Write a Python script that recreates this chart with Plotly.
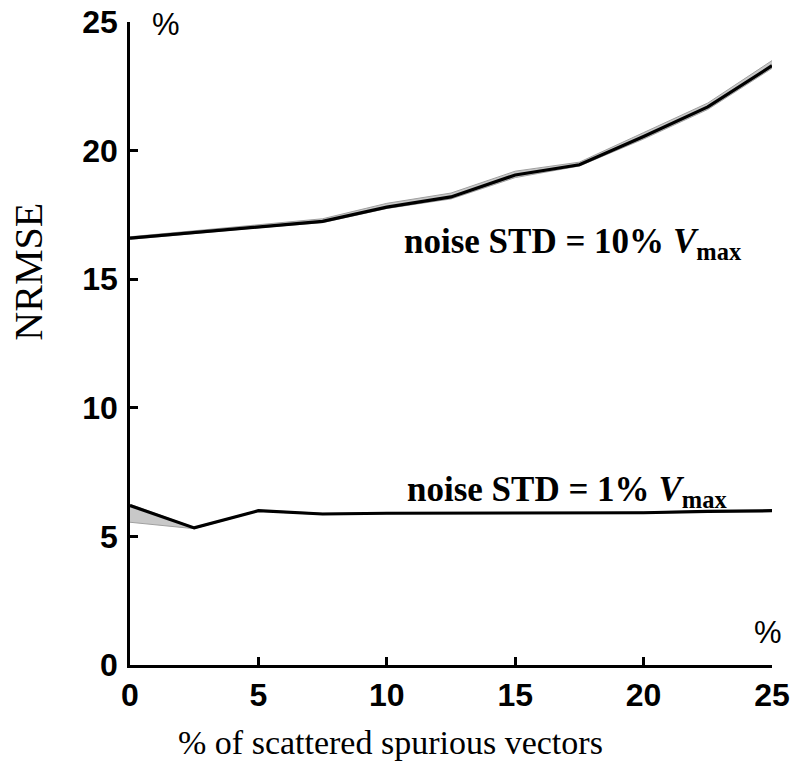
import plotly.graph_objects as go

x_vals = [0, 2.5, 5, 7.5, 10, 12.5, 15, 17.5, 20, 22.5, 25]

# noise STD = 10% Vmax
hi_mean = [16.6, 16.82, 17.03, 17.25, 17.8, 18.2, 19.05, 19.45, 20.55, 21.7, 23.3]
hi_upper = [16.65, 16.88, 17.1, 17.35, 17.95, 18.35, 19.2, 19.55, 20.7, 21.85, 23.5]
hi_lower = [16.55, 16.78, 17.0, 17.2, 17.75, 18.12, 18.95, 19.4, 20.45, 21.6, 23.2]

# noise STD = 1% Vmax
lo_mean = [6.2, 5.33, 6.0, 5.87, 5.9, 5.9, 5.9, 5.9, 5.92, 5.97, 6.0]
lo_upper = [6.25, 5.35, 6.02, 5.9, 5.93, 5.93, 5.92, 5.92, 5.95, 6.0, 6.02]
lo_lower = [5.55, 5.3, 5.98, 5.85, 5.88, 5.88, 5.88, 5.88, 5.9, 5.95, 5.98]

x_ticks = [0, 5, 10, 15, 20, 25]
y_ticks = [0, 5, 10, 15, 20, 25]

band_fill = "#c8c8c8"
band_edge = "#a0a0a0"

fig = go.Figure()

for lower, upper, mean in [(hi_lower, hi_upper, hi_mean), (lo_lower, lo_upper, lo_mean)]:
    fig.add_trace(go.Scatter(x=x_vals, y=lower, mode="lines",
                             line=dict(color=band_edge, width=1), showlegend=False,
                             hoverinfo="skip"))
    fig.add_trace(go.Scatter(x=x_vals, y=upper, mode="lines", fill="tonexty",
                             fillcolor=band_fill,
                             line=dict(color=band_edge, width=1), showlegend=False,
                             hoverinfo="skip"))
    fig.add_trace(go.Scatter(x=x_vals, y=mean, mode="lines",
                             line=dict(color="black", width=3.2), showlegend=False))

tick_font = dict(family="Liberation Sans", size=32, color="black", weight="bold")

fig.update_xaxes(range=[0, 25], tickvals=x_ticks, ticktext=[str(v) for v in x_ticks],
                 showline=True, linecolor="black", linewidth=2.5,
                 ticks="inside", ticklen=8, tickwidth=2.5, tickcolor="black",
                 showgrid=False, zeroline=False, tickfont=tick_font,
                 ticklabelstandoff=0, automargin=False, ticklabeloverflow="allow")
fig.update_yaxes(range=[0, 25], tickvals=y_ticks, ticktext=[str(v) for v in y_ticks],
                 showline=True, linecolor="black", linewidth=2.5,
                 ticks="inside", ticklen=8, tickwidth=2.5, tickcolor="black",
                 showgrid=False, zeroline=False, tickfont=tick_font,
                 ticklabelstandoff=3, automargin=False, ticklabeloverflow="allow")

serif = "Liberation Serif"
annotations = [
    dict(x=10.6, y=16.4, xref="x", yref="y", xanchor="left", yanchor="middle",
         text="<b>noise STD = 10% <i>V</i><sub>max</sub></b>",
         font=dict(family=serif, size=35, color="black"), showarrow=False),
    dict(x=10.7, y=6.75, xref="x", yref="y", xanchor="left", yanchor="middle",
         text="<b>noise STD = 1% <i>V</i><sub>max</sub></b>",
         font=dict(family=serif, size=35, color="black"), showarrow=False),
    dict(x=1.4, y=24.9, xref="x", yref="y", xanchor="center", yanchor="middle",
         text="%", font=dict(family="Liberation Sans", size=31, color="black"), showarrow=False),
    dict(x=24.85, y=1.28, xref="x", yref="y", xanchor="center", yanchor="middle",
         text="%", font=dict(family="Liberation Sans", size=31, color="black"), showarrow=False),
    dict(x=0.405, y=-0.12, xref="paper", yref="paper", xanchor="center", yanchor="middle",
         text="% of scattered spurious vectors",
         font=dict(family=serif, size=34, color="black"), showarrow=False),
    dict(x=-0.158, y=0.611, xref="paper", yref="paper", xanchor="center", yanchor="middle",
         text="NRMSE", textangle=-90,
         font=dict(family=serif, size=40, color="black"), showarrow=False),
]

# the page body adds an 8px offset, so margins are shifted to compensate
fig.update_layout(width=800, height=779,
                  margin=dict(l=122, r=36, t=14, b=122),
                  plot_bgcolor="white", paper_bgcolor="white",
                  annotations=annotations, showlegend=False)

fig.write_html("out.html")
